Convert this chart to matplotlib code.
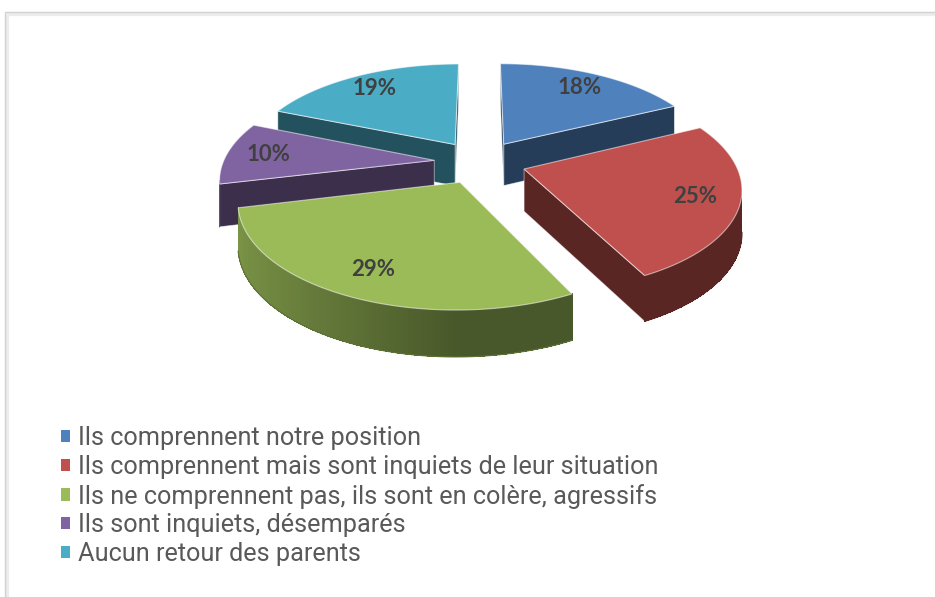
import numpy as np
import matplotlib.pyplot as plt
from matplotlib.patches import Polygon, Rectangle, Patch
from matplotlib.colors import to_rgb

# data
labels = [
    "Ils comprennent notre position",
    "Ils comprennent mais sont inquiets de leur situation",
    "Ils ne comprennent pas, ils sont en colère, agressifs",
    "Ils sont inquiets, désemparés",
    "Aucun retour des parents",
]
values = [18, 25, 29, 10, 19]
pct_labels = ["18%", "25%", "29%", "10%", "19%"]
colors = ["#4F81BD", "#C0504D", "#9BBB59", "#8064A2", "#4BACC6"]

# fake 3D geometry (pixel-like units, y down)
CX, CY = 480, 162
R = 211
EXPLODE = 46
SIN_T, COS_T = 0.47, 0.90
DIST = 1150
DEPTH = 42


def project(x, y, z=0.0):
    s = DIST / (DIST + y * COS_T)
    return CX + x * s, CY - y * SIN_T * s + z * np.sqrt(s)


def signed_area(pts):
    pts = np.asarray(pts)
    x, y = pts[:, 0], pts[:, 1]
    return 0.5 * np.sum(x * np.roll(y, -1) - np.roll(x, -1) * y)


def shade(color, f):
    return tuple(np.clip(np.array(to_rgb(color)) * f, 0, 1))


fig = plt.figure(figsize=(9.35, 5.97), dpi=100)
ax = fig.add_axes([0, 0, 1, 1])
ax.set_xlim(0, 935)
ax.set_ylim(597, 0)
ax.axis("off")

# chart frame
ax.add_patch(Rectangle((7, 14), 940, 600, fill=False, edgecolor="#ececec", lw=3, zorder=0))
ax.add_patch(Rectangle((5, 12), 940, 600, fill=False, edgecolor="#d2d2d2", lw=1.0, zorder=0))

frac = np.array(values) / np.sum(values)
cum = np.concatenate([[0], np.cumsum(frac)])
starts = 90 - 360 * cum[:-1]
ends = 90 - 360 * cum[1:]

slices = []
for i in range(len(values)):
    a1, a2 = ends[i], starts[i]
    m = np.radians((a1 + a2) / 2)
    ex, ey = EXPLODE * np.cos(m), EXPLODE * np.sin(m)
    slices.append((i, a1, a2, m, ex, ey))

# back slices first
slices.sort(key=lambda t: -t[5])

edge = (1, 1, 1, 0.55)
z = 1
for i, a1, a2, m, ex, ey in slices:
    col = colors[i]

    def rim(th, zz=0.0):
        t = np.radians(th)
        return project(ex + R * np.cos(t), ey + R * np.sin(t), zz)

    apex_t = project(ex, ey, 0)
    apex_b = project(ex, ey, DEPTH)

    # radial cut faces
    faces = [
        [apex_t, rim(a1), rim(a1, DEPTH), apex_b],
        [apex_t, apex_b, rim(a2, DEPTH), rim(a2)],
    ]
    for f in faces:
        if signed_area(f) > 0:
            ax.add_patch(Polygon(f, closed=True, facecolor=shade(col, 0.47),
                                 edgecolor=edge, lw=0.6, zorder=z))

    # outer wall, shaded by angle (no antialiasing so strips do not seam)
    n = max(2, int(abs(a2 - a1)))
    th = np.linspace(a1, a2, n + 1)
    vis = []
    for t0, t1 in zip(th[:-1], th[1:]):
        quad = [rim(t0), rim(t1), rim(t1, DEPTH), rim(t0, DEPTH)]
        if signed_area(quad) > 0:
            tm = np.radians((t0 + t1) / 2)
            c = shade(col, 0.47 + 0.33 * max(0.0, -np.cos(tm)))
            ax.add_patch(Polygon(quad, closed=True, facecolor=c, edgecolor="none",
                                 lw=0, antialiased=False, zorder=z))
            vis.append((t0, t1, c))
    if vis:
        bottom = [rim(t0, DEPTH) for t0, _, _ in vis] + [rim(vis[-1][1], DEPTH)]
        bx, by = zip(*bottom)
        ax.plot(bx, by, color=vis[len(vis) // 2][2], lw=0.8, zorder=z)

    # top face
    arc = np.linspace(a1, a2, 90)
    top = [apex_t] + [rim(t) for t in arc]
    ax.add_patch(Polygon(top, closed=True, facecolor=col, edgecolor=edge,
                         lw=0.8, zorder=z + 0.5))

    lx, ly = project(ex + 0.8 * R * np.cos(m), ey + 0.8 * R * np.sin(m))
    ax.text(lx, ly, pct_labels[i], ha="center", va="center", fontsize=16,
            fontweight="bold", family="Lato", color="#404040", zorder=z + 0.6)
    z += 1

handles = [Patch(facecolor=c, edgecolor="none") for c in colors]
ax.legend(handles, labels, loc="upper left", bbox_to_anchor=(61 / 935, 1 - 426 / 597),
          frameon=False, prop={"family": "Roboto", "size": 18.2},
          labelcolor="#595959", handlelength=0.36, handleheight=0.36,
          handletextpad=0.3, labelspacing=0.19, borderpad=0, borderaxespad=0)

fig.savefig("out.png", dpi=100, facecolor="white")
